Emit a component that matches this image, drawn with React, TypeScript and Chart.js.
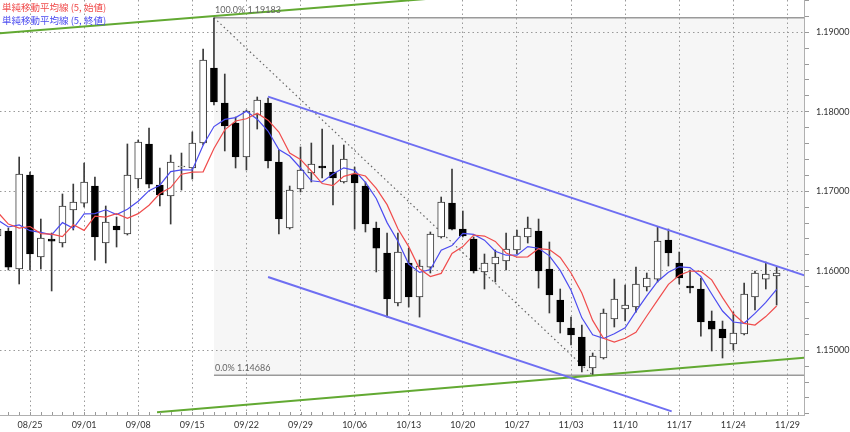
import React, { useEffect, useRef } from "react";
import { Chart, registerables } from "chart.js";

Chart.register(...registerables);

// Trading-day index of the first candle (index 0 = 08/25)
const FIRST_INDEX = -3;

// OHLC, index -3 .. 69
const opens = [
  1.16437, 1.165, 1.16022, 1.17205,
  1.16173, 1.164, 1.16349, 1.16764, 1.16852, 1.17066, 1.16349, 1.16563, 1.16463, 1.17154,
  1.17595, 1.17079, 1.16941, 1.17305, 1.17293, 1.17607, 1.18551, 1.1811, 1.17859, 1.17431,
  1.17959, 1.1811, 1.17368, 1.16538, 1.17029, 1.1723, 1.17318, 1.17242, 1.17117, 1.17217,
  1.17066, 1.16538, 1.16224, 1.15595, 1.16098, 1.1567, 1.16047, 1.16425, 1.16852, 1.16525,
  1.164, 1.15985, 1.16085, 1.16123, 1.16261, 1.16425, 1.165, 1.16022, 1.15632, 1.1528,
  1.15167, 1.14777, 1.14903, 1.15393, 1.15519, 1.15544, 1.15796, 1.15896, 1.16387, 1.16098,
  1.15808, 1.15771, 1.15368, 1.15267, 1.15079, 1.15205, 1.1567, 1.15896, 1.15934,
];
const highs = [
  1.16613, 1.16538, 1.17431, 1.17242,
  1.16651, 1.16475, 1.16966, 1.17091, 1.17356, 1.1718, 1.16815, 1.16676, 1.17595, 1.17645,
  1.17796, 1.17293, 1.17456, 1.17481, 1.17746, 1.1879, 1.19183, 1.18475, 1.17934, 1.18022,
  1.18186, 1.18173, 1.17519, 1.17066, 1.17557, 1.17607, 1.17783, 1.17582, 1.17582, 1.17305,
  1.17117, 1.16613, 1.16475, 1.16475, 1.16286, 1.16135, 1.16488, 1.16928, 1.1728, 1.16752,
  1.16425, 1.16211, 1.16261, 1.16475, 1.16513, 1.16676, 1.16651, 1.16362, 1.15771, 1.15418,
  1.15318, 1.14966, 1.15519, 1.15896, 1.15821, 1.16047, 1.15972, 1.16551, 1.16525, 1.16236,
  1.1601, 1.15909, 1.15494, 1.15368, 1.15481, 1.15846, 1.15997, 1.1611, 1.16047,
];
const lows = [
  1.16374, 1.1601, 1.15834, 1.1601,
  1.16022, 1.15746, 1.16299, 1.16513, 1.16802, 1.16135, 1.16098, 1.16299, 1.1645, 1.17041,
  1.17041, 1.16815, 1.16588, 1.17016, 1.17154, 1.17582, 1.18085, 1.17507, 1.17293, 1.17268,
  1.17783, 1.17293, 1.16463, 1.16525, 1.16991, 1.17117, 1.17167, 1.16827, 1.17104, 1.16525,
  1.16488, 1.15985, 1.15418, 1.15557, 1.15544, 1.15418, 1.15972, 1.16412, 1.16513, 1.16425,
  1.15972, 1.15771, 1.15859, 1.1601, 1.16211, 1.16349, 1.15783, 1.15469, 1.15217, 1.15066,
  1.14727, 1.14686, 1.1489, 1.15293, 1.15368, 1.15481, 1.15746, 1.15859, 1.1606, 1.15834,
  1.1572, 1.15179, 1.14991, 1.14903, 1.15003, 1.15192, 1.15507, 1.15771, 1.15569,
];
const closes = [
  1.16525, 1.16047, 1.17217, 1.16211,
  1.16412, 1.16374, 1.16815, 1.16865, 1.17117, 1.16425, 1.16613, 1.16513, 1.17205, 1.1762,
  1.17091, 1.16953, 1.17368, 1.17318, 1.17607, 1.18651, 1.18123, 1.17821, 1.17431, 1.1801,
  1.18148, 1.17381, 1.16651, 1.17016, 1.17268, 1.17343, 1.17293, 1.17167, 1.17406, 1.17104,
  1.16588, 1.16286, 1.15645, 1.16236, 1.1567, 1.1606, 1.16463, 1.16865, 1.16525, 1.16437,
  1.15997, 1.16098, 1.16173, 1.16274, 1.16437, 1.16538, 1.15997, 1.15695, 1.15356, 1.15192,
  1.14802, 1.14928, 1.15469, 1.15645, 1.15569, 1.15834, 1.15909, 1.16374, 1.16224, 1.15909,
  1.15783, 1.15356, 1.15267, 1.15154, 1.15217, 1.15708, 1.15972, 1.15959, 1.15972,
];

// 5-period simple moving averages (open = red, close = blue), index -3 .. 69
const maOpen5 = [
  1.16739, 1.16588, 1.16538, 1.16557,
  1.16468, 1.1646, 1.1643, 1.16578, 1.16508, 1.16686, 1.16676, 1.16719, 1.16659, 1.16719,
  1.16825, 1.16971, 1.17046, 1.17215, 1.17242, 1.17245, 1.17539, 1.17773, 1.17884, 1.17912,
  1.17982, 1.17894, 1.17746, 1.17481, 1.17401, 1.17255, 1.17097, 1.17071, 1.17187, 1.17225,
  1.17192, 1.17036, 1.16832, 1.16528, 1.16304, 1.16025, 1.15927, 1.15967, 1.16218, 1.16304,
  1.1645, 1.16437, 1.16369, 1.16224, 1.16171, 1.16176, 1.16279, 1.16266, 1.16168, 1.15972,
  1.1572, 1.15376, 1.15152, 1.15104, 1.15152, 1.15227, 1.15431, 1.1563, 1.15829, 1.15944,
  1.15997, 1.15992, 1.15886, 1.15662, 1.15459, 1.15338, 1.15318, 1.15424, 1.15557,
];
const maClose5 = [
  1.16639, 1.16551, 1.16576, 1.16504,
  1.16483, 1.16452, 1.16606, 1.16535, 1.16717, 1.16719, 1.16767, 1.16707, 1.16774, 1.16875,
  1.17008, 1.17076, 1.17247, 1.1727, 1.17268, 1.1758, 1.17814, 1.17904, 1.17927, 1.18007,
  1.17907, 1.17758, 1.17524, 1.17444, 1.17293, 1.17132, 1.17117, 1.17217, 1.17295, 1.17263,
  1.17112, 1.1691, 1.16606, 1.16372, 1.16085, 1.1598, 1.16015, 1.16259, 1.16317, 1.1647,
  1.16457, 1.16385, 1.16246, 1.16196, 1.16196, 1.16304, 1.16284, 1.16188, 1.16005, 1.15756,
  1.15408, 1.15195, 1.15149, 1.15207, 1.15283, 1.15489, 1.15685, 1.15866, 1.15982, 1.1605,
  1.1604, 1.15929, 1.15708, 1.15494, 1.15356, 1.1534, 1.15464, 1.15602, 1.15766,
];

const legendLabels = ["単純移動平均線 (5, 始値)", "単純移動平均線 (5, 終値)"];

// x axis: weekly labels at trading-day indices
const weekTickIndex = [0, 5, 10, 15, 20, 25, 30, 35, 40, 45, 50, 55, 60, 65, 70];
const weekLabels = [
  "08/25", "09/01", "09/08", "09/15", "09/22", "09/29", "10/06", "10/13",
  "10/20", "10/27", "11/03", "11/10", "11/17", "11/24", "11/29",
];

// visible ranges
const X_MIN = -2.7726;
const X_MAX = 71.53;
const Y_MIN = 1.14186;
const Y_MAX = 1.19406;
const Y_MINOR_STEP = 0.002;

// Fibonacci retracement (high -> low)
const FIB_HIGH = 1.19183;
const FIB_LOW = 1.14686;
const FIB_HIGH_INDEX = 17;
const FIB_LOW_INDEX = 52;

// trend lines: [index, price] pairs
const channelUpper = [[22, 1.1819], [72, 1.15922]];
const channelLower = [[22, 1.15921], [59.3, 1.14232]];
const greenUpper = [[-3, 1.18985], [40, 1.19456]];
const greenLower = [[11.74, 1.1422], [72, 1.14913]];

const RED = "#f04c4c";
const BLUE = "#4c4cf0";
const CHANNEL = "#6e6ef2";
const GREEN = "#62a932";
const CANDLE_LINE = "#3a3a3a";
const GRID = "#9a9a9a";

const isMajor = (v: number) => Math.abs(v * 100 - Math.round(v * 100)) < 1e-6;

export default function App() {
  const ref = useRef<HTMLCanvasElement | null>(null);

  useEffect(() => {
    document.body.style.margin = "0";
    const canvas = ref.current;
    if (!canvas) return;

    const ix = (i: number) => FIRST_INDEX + i;
    const up = opens.map((o, i) => closes[i] >= o);
    const bodies = opens.map((o, i) => ({ x: ix(i), y: [o, closes[i]] }));
    const wicks = lows.map((l, i) => ({ x: ix(i), y: [l, highs[i]] }));
    const maO = maOpen5.map((v, i) => ({ x: ix(i), y: v }));
    const maC = maClose5.map((v, i) => ({ x: ix(i), y: v }));
    const pts = (arr: number[][]) => arr.map(([x, y]) => ({ x, y }));

    const yTicks: number[] = [];
    for (let k = 0; ; k++) {
      const v = Math.round((1.142 + k * Y_MINOR_STEP) * 1000) / 1000;
      if (v > Y_MAX) break;
      yTicks.push(v);
    }

    const lineDs = (data: any[], color: string, width: number, order: number, dash: number[] = []) => ({
      type: "line" as const,
      data,
      borderColor: color,
      borderWidth: width,
      borderDash: dash,
      pointRadius: 0,
      tension: 0,
      fill: false,
      order,
    });

    const overlay = {
      id: "overlay",
      beforeDraw(chart: any) {
        const { ctx, chartArea, scales } = chart;
        const x0 = scales.x.getPixelForValue(FIB_HIGH_INDEX);
        const yT = scales.y.getPixelForValue(FIB_HIGH);
        const yB = scales.y.getPixelForValue(FIB_LOW);
        ctx.save();
        ctx.fillStyle = "#f6f6f6";
        ctx.fillRect(x0, yT, chartArea.right - x0, yB - yT);
        ctx.restore();
      },
      afterDraw(chart: any) {
        const { ctx, chartArea, scales } = chart;
        const xs = scales.x;
        const ys = scales.y;
        ctx.save();
        // daily tick marks above the time axis
        ctx.strokeStyle = "#999";
        ctx.lineWidth = 1;
        ctx.beginPath();
        for (let d = Math.ceil(X_MIN); d <= Math.floor(X_MAX); d++) {
          const px = Math.round(xs.getPixelForValue(d)) + 0.5;
          ctx.moveTo(px, chartArea.bottom - 3);
          ctx.lineTo(px, chartArea.bottom);
        }
        ctx.stroke();
        // fibonacci labels
        ctx.font = "9px Lato";
        ctx.fillStyle = "#666";
        ctx.textAlign = "left";
        ctx.textBaseline = "middle";
        const fx = xs.getPixelForValue(FIB_HIGH_INDEX) + 1;
        ctx.fillText(`100.0% ${FIB_HIGH.toFixed(5)}`, fx, ys.getPixelForValue(FIB_HIGH) - 8);
        ctx.fillText(`0.0% ${FIB_LOW.toFixed(5)}`, fx, ys.getPixelForValue(FIB_LOW) - 7.5);
        // legend
        ctx.font = '9.5px "Noto Sans CJK JP"';
        ctx.fillStyle = RED;
        ctx.fillText(legendLabels[0], 2, 7.5);
        ctx.fillStyle = BLUE;
        ctx.fillText(legendLabels[1], 2, 20);
        ctx.restore();
      },
    };

    const chart = new Chart(canvas, {
      type: "line",
      data: {
        datasets: [
          lineDs(maO, RED, 1.2, 0),
          lineDs(maC, BLUE, 1.2, 0),
          lineDs(pts(channelUpper), CHANNEL, 2, 1),
          lineDs(pts(channelLower), CHANNEL, 2, 1),
          lineDs(pts(greenUpper), GREEN, 2, 1),
          lineDs(pts(greenLower), GREEN, 2, 1),
          lineDs([{ x: FIB_HIGH_INDEX, y: FIB_HIGH }, { x: 80, y: FIB_HIGH }], "#9a9a9a", 1.5, 4),
          lineDs([{ x: FIB_HIGH_INDEX, y: FIB_LOW }, { x: 80, y: FIB_LOW }], "#9a9a9a", 1.5, 4),
          lineDs(
            [{ x: FIB_HIGH_INDEX, y: FIB_HIGH }, { x: FIB_LOW_INDEX, y: FIB_LOW }],
            "#666666", 1.2, 4, [1.5, 3]
          ),
          {
            type: "bar",
            data: bodies as any,
            backgroundColor: up.map((u) => (u ? "#ffffff" : "#000000")),
            borderColor: up.map((u) => (u ? CANDLE_LINE : "#000000")),
            borderWidth: 1,
            borderSkipped: false,
            barThickness: 7,
            grouped: false,
            order: 2,
          } as any,
          {
            type: "bar",
            data: wicks as any,
            backgroundColor: CANDLE_LINE,
            borderWidth: 0,
            barThickness: 1,
            grouped: false,
            order: 3,
          } as any,
        ],
      },
      options: {
        responsive: false,
        devicePixelRatio: 1,
        animation: false,
        events: [],
        layout: { padding: 0 },
        plugins: { legend: { display: false }, tooltip: { enabled: false } },
        scales: {
          x: {
            type: "linear",
            position: "bottom",
            min: X_MIN,
            max: X_MAX,
            offset: false,
            bounds: "data",
            afterBuildTicks: (s: any) => {
              s.ticks = weekTickIndex.map((v) => ({ value: v }));
            },
            afterFit: (s: any) => {
              s.height = 17;
              s.paddingLeft = 0;
              s.paddingRight = 0;
            },
            ticks: {
              autoSkip: false,
              maxRotation: 0,
              padding: 5,
              color: "#333",
              font: { family: "Lato", size: 9 },
              callback: (_v: any, i: number) => weekLabels[i],
            },
            grid: { color: GRID, drawTicks: false, offset: false },
            border: { display: true, color: "#b0b0b0", dash: [1.5, 3] },
          },
          y: {
            type: "linear",
            position: "right",
            min: Y_MIN,
            max: Y_MAX,
            bounds: "data",
            afterBuildTicks: (s: any) => {
              s.ticks = yTicks.map((v) => ({ value: v }));
            },
            afterFit: (s: any) => {
              s.width = 46;
              s.paddingTop = 0;
              s.paddingBottom = 0;
            },
            ticks: {
              autoSkip: false,
              padding: 7,
              color: "#333",
              font: { family: "Lato", size: 9 },
              callback: (v: any) => (isMajor(Number(v)) ? Number(v).toFixed(5) : ""),
            },
            grid: {
              color: (c: any) => (c.tick && isMajor(c.tick.value) ? GRID : "rgba(0,0,0,0)"),
              tickColor: "#999",
              tickLength: 5,
              drawTicks: true,
            },
            border: { display: true, color: "#b0b0b0", dash: [1.5, 3] },
          },
        },
      } as any,
      plugins: [overlay],
    });

    return () => chart.destroy();
  }, []);

  return (
    <div style={{ width: 850, height: 432 }}>
      <style>{"body{margin:0}"}</style>
      <canvas ref={ref} width={850} height={432} style={{ display: "block" }} />
    </div>
  );
}
